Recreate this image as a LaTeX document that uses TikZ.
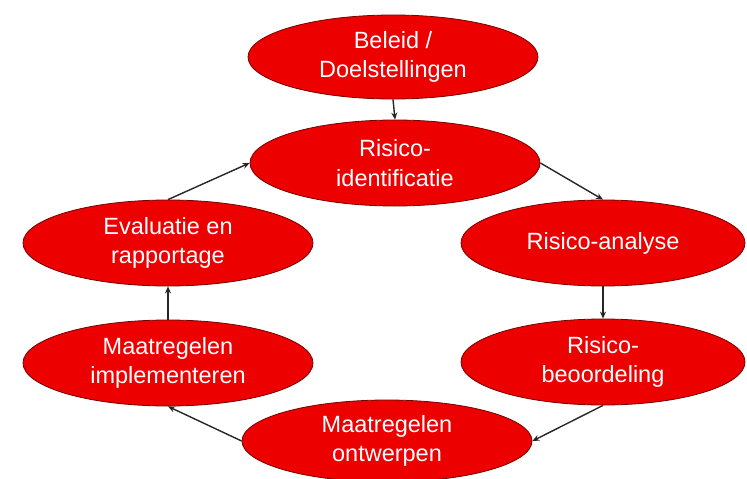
\documentclass[tikz,border=0pt]{standalone}
\usepackage{fontspec}
\setmainfont{Liberation Sans}
\usetikzlibrary{shapes.geometric,arrows.meta}
\definecolor{ellred}{RGB}{236,0,0}
\definecolor{ellline}{RGB}{120,0,0}
\begin{document}
\begin{tikzpicture}[x=1pt,y=-1pt,
  stage/.style={ellipse, draw=ellline, line width=0.8pt, fill=ellred, text=white,
    inner sep=0pt, minimum width=290pt, minimum height=86pt, align=center,
    font=\fontsize{23.5}{29.5}\selectfont},
  flow/.style={-{Stealth[length=7pt,width=6pt]}, line width=1.4pt, draw=black!85}]
\useasboundingbox (0,0) rectangle (747,479);
\node[stage, minimum height=84pt] (bel) at (393,57) {Beleid /\\Doelstellingen};
\node[stage] (rid) at (395,163) {Risico-\\identificatie};
\node[stage, minimum width=284pt] (ana) at (603,243) {Risico-analyse};
\node[stage, minimum width=284pt] (beo) at (603,362) {Risico-\\beoordeling};
\node[stage, minimum height=82pt] (ont) at (387,441) {Maatregelen\\ontwerpen};
\node[stage] (imp) at (168,363) {Maatregelen\\implementeren};
\node[stage] (eva) at (168,243) {Evaluatie en\\rapportage};
\draw[flow] (bel.south) -- (rid.north);
\draw[flow] (rid.east) -- (ana.north);
\draw[flow] (ana.south) -- (beo.north);
\draw[flow] (beo.south) -- (ont.east);
\draw[flow] (ont.west) -- (imp.south);
\draw[flow] (imp.north) -- (eva.south);
\draw[flow] (eva.north) -- (rid.west);
\end{tikzpicture}
\end{document}
